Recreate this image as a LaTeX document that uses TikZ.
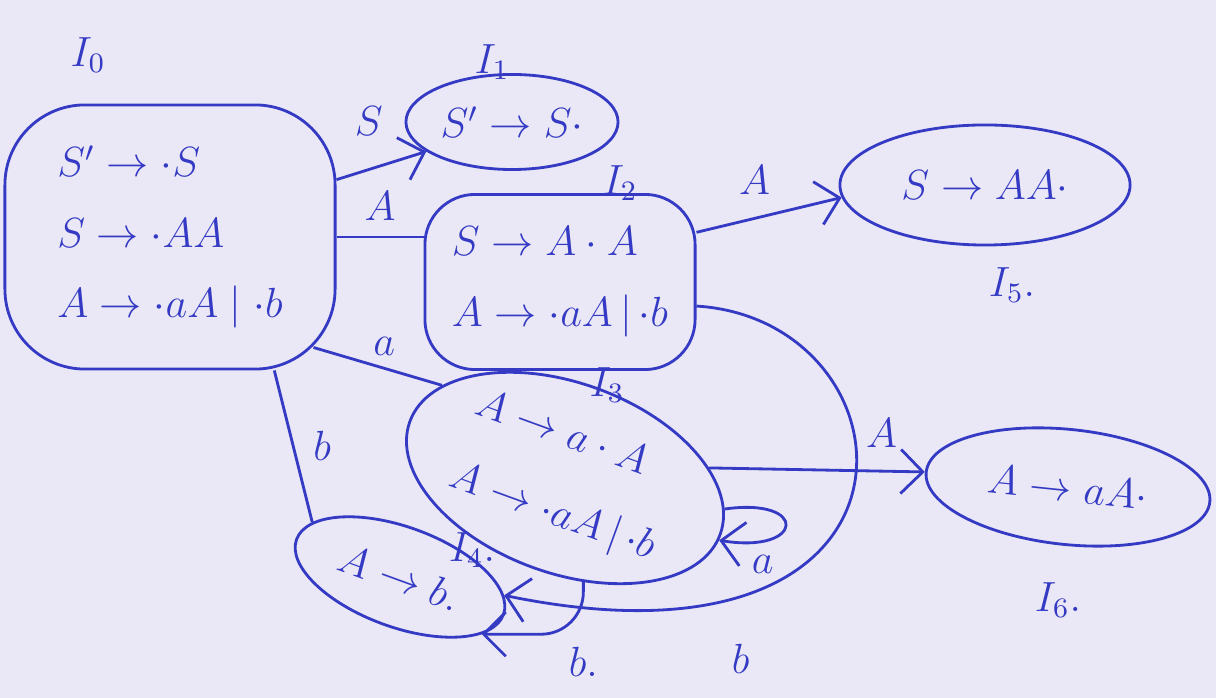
\documentclass[tikz,border=0pt]{standalone}
\usepackage{amsmath,amssymb}
\usetikzlibrary{arrows.meta,calc,positioning,shapes.geometric}
\definecolor{ink}{RGB}{52,58,196}
\definecolor{paper}{RGB}{234,232,246}
\tikzset{
  item/.style={draw=ink, text=ink, line width=0.8pt, font=\large, align=left, inner sep=2pt},
  blob/.style={item, rectangle},
  oval/.style={item, ellipse, inner sep=1pt},
  tag/.style={text=ink, font=\large},
  sym/.style={text=ink, font=\large},
  plain/.style={draw=ink, line width=0.8pt},
  trans/.style={plain, -{Straight Barb[length=2.2mm, width=4.4mm]}},
}

\begin{document}
\begin{tikzpicture}[x=0.01cm, y=-0.01cm]
  % paper
  \fill[paper] (0,0) rectangle (1216,698);
  \useasboundingbox (0,0) rectangle (1216,698);
  % item sets
  \node[blob, rounded corners=0.8cm, minimum width=3.3cm, minimum height=2.64cm] (I0) at (170,237)
    {$S'\rightarrow\cdot S$\\[6pt] $S\rightarrow\cdot AA$\\[6pt] $A\rightarrow\cdot aA\mid\cdot b$};
  \node[oval, minimum width=2.05cm, minimum height=0.95cm] (I1) at (512,122) {$S'\rightarrow S\cdot$};
  \node[blob, rounded corners=0.5cm, minimum width=2.7cm, minimum height=1.75cm] (I2) at (560,282)
    {$S\rightarrow A\cdot A$\\[6pt] $A\rightarrow\cdot aA\,|\,{\cdot}b$};
  \node[oval, rotate=-20, inner sep=-6pt, minimum width=3.3cm, minimum height=1.9cm] (I3) at (565,478)
    {$A\rightarrow a\cdot A$\\[8pt] $A\rightarrow\cdot aA\,|\,{\cdot}b$};
  \node[oval, rotate=-20, minimum width=2.2cm, minimum height=1.0cm] (I4) at (400,577) {$A\rightarrow b.$};
  \node[oval, minimum width=2.9cm, minimum height=1.2cm] (I5) at (985,185) {$S\rightarrow AA\cdot$};
  \node[oval, rotate=-6, minimum width=2.85cm, minimum height=1.15cm] (I6) at (1068,487) {$A\rightarrow aA\cdot$};
  % state names
  \node[tag] (t0) at (88,55) {$I_0$};
  \node[tag] (t1) at (492,62) {$I_1$};
  \node[tag] (t2) at (620,183) {$I_2$};
  \node[tag] (t3) at (607,385) {$I_3$};
  \node[tag] (t4) at (472,550) {$I_4.$};
  \node[tag] (t5) at (1012,285) {$I_5.$};
  \node[tag] (t6) at (1058,600) {$I_6.$};
  % transitions
  \draw[trans] (I0.19) -- node[sym, pos=.36, above=6pt] (s01) {$S$} (I1.199);
  \draw[plain] (I0.east) -- node[sym, above=1pt] (s02) {$A$} (I0.east -| I2.west);
  \draw[plain] ($(I0.south east)+(-23,-23)$) -- node[sym, pos=.55, above] (s03) {$a$} (I3.163);
  \draw[plain] (I4.168) -- node[sym, right=2pt] (s40) {$b$} (I0.-52);
  \draw[trans] (I2.20) -- node[sym, pos=.4, above=3pt] (s25) {$A$} (I5.185);
  \draw[trans] (I3.24) -- node[sym, pos=.8, above=3pt] (s36) {$A$} (I6.west);
  \draw[trans] (I3.9) .. controls +(85,-12) and +(85,14) .. node[sym, pos=.9, below right=0pt and -1pt] (s33) {$a$} (I3.-2);
  \draw[trans] (I2.-10) .. controls +(225,14) and +(448,92) .. node[sym, pos=.77, below=10pt] (s24) {$b$} (I4.10);
  \draw[trans, rounded corners=12pt] (I3.-60) |- node[sym, pos=.5, below=0pt] (s34) {$b.$} (I4.-15);
\end{tikzpicture}
\end{document}
